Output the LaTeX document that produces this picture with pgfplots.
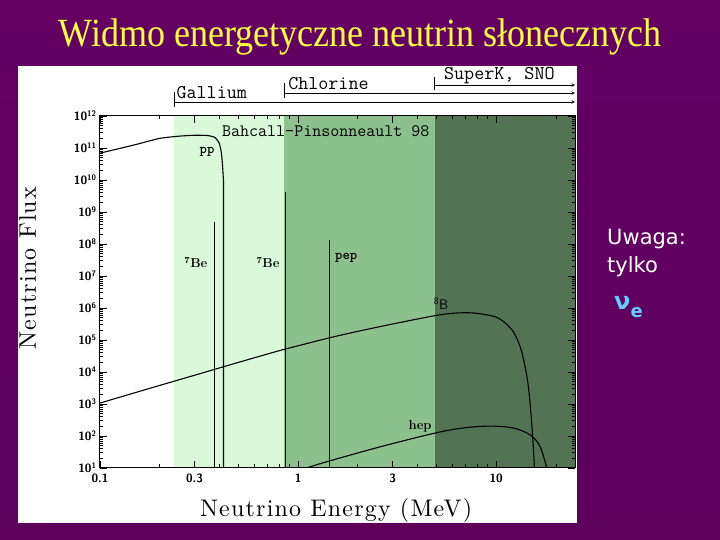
\documentclass[border=0pt]{standalone}
\usepackage{fontspec}
\usepackage{pgfplots}
\pgfplotsset{compat=1.18}
\newfontfamily\titlefont[FakeStretch=0.9]{Liberation Serif}
\newfontfamily\notefont{DejaVu Sans}
\newfontfamily\spacedfont{lmroman10-regular}[Extension=.otf, LetterSpace=5]
\definecolor{bgtop}{HTML}{640064}
\definecolor{bgmid}{HTML}{980098}
\definecolor{bgbot}{HTML}{5C005C}
\definecolor{titleyellow}{HTML}{FFFF3C}
\definecolor{lgreen}{HTML}{D9F9D9}
\definecolor{mgreen}{HTML}{8CC08C}
\definecolor{dgreen}{HTML}{527452}
\definecolor{nucol}{HTML}{66CCFF}

\begin{document}
\begin{tikzpicture}
\shade[top color=bgtop, middle color=bgmid, bottom color=bgbot] (0pt,0pt) rectangle (720pt,540pt);
\fill[white] (18pt,17pt) rectangle (577pt,474pt);
\node[anchor=base, text=titleyellow, font=\titlefont\fontsize{40}{44}\selectfont, inner sep=0pt] at (360pt,493pt) {Widmo energetyczne neutrin słonecznych};

\begin{axis}[
at={(100pt,72pt)}, anchor=south west,
width=475pt, height=352pt, scale only axis,
xmode=log, ymode=log,
xmin=0.1, xmax=25, ymin=10, ymax=1e12,
axis on top, clip mode=individual,
xtick={0.1,0.3,1,3,10},
xticklabels={0.1,0.3,1,3,10},
minor xtick={0.2,0.4,0.5,0.6,0.7,0.8,0.9,2,4,5,6,7,8,9,20},
ytickten={1,...,12},
yticklabels={10\textsuperscript{1},10\textsuperscript{2},10\textsuperscript{3},10\textsuperscript{4},10\textsuperscript{5},10\textsuperscript{6},10\textsuperscript{7},10\textsuperscript{8},10\textsuperscript{9},10\textsuperscript{10},10\textsuperscript{11},10\textsuperscript{12}},
tick style={black, line width=0.6pt},
major tick length=7pt, minor tick length=3.5pt,
ticklabel style={font=\sffamily\bfseries\fontsize{12}{14}\selectfont},
xticklabel style={yshift=-2pt},
axis line style={line width=1pt},
xlabel={Neutrino Energy (MeV)},
xlabel style={at={(axis description cs:0.497,-0.122)}, anchor=center, font=\spacedfont\fontsize{24}{26}\selectfont},
ylabel={Neutrino Flux},
ylabel style={at={(axis description cs:-0.152,0.568)}, anchor=center, font=\spacedfont\fontsize{24}{26}\selectfont},
]
% detector threshold regions
\addplot[fill=lgreen, draw=none] coordinates {(0.236,10) (0.236,1e12) (0.85,1e12) (0.85,10)} -- cycle;
\addplot[fill=mgreen, draw=none] coordinates {(0.85,10) (0.85,1e12) (4.9,1e12) (4.9,10)} -- cycle;
\addplot[fill=dgreen, draw=none] coordinates {(4.9,10) (4.9,1e12) (25,1e12) (25,10)} -- cycle;

% pp
\addplot[black, line width=1.1pt, smooth, tension=0.3] coordinates {
(0.1,6.9e10) (0.15,1.26e11) (0.2,2.0e11) (0.25,2.34e11) (0.3,2.5e11) (0.35,2.45e11)
(0.38,2.14e11) (0.40,1.41e11) (0.41,7.1e10) (0.415,3.2e10) (0.419,1.26e10)
};
\addplot[black, line width=1.1pt] coordinates {(0.419,1.26e10) (0.42,1e10) (0.42,10)};
% 7Be, pep lines
\addplot[black, line width=1.1pt] coordinates {(0.38,10) (0.38,4.9e8)};
\addplot[black, line width=1.1pt] coordinates {(0.86,10) (0.86,4.2e9)};
\addplot[black, line width=1.1pt] coordinates {(1.44,10) (1.44,1.33e8)};
% 8B
\addplot[black, line width=1.1pt, smooth, tension=0.5] coordinates {
(0.1,1.07e3) (0.2,3.8e3) (0.3,7.9e3) (0.5,2.0e4) (0.8,4.6e4) (1.0,6.6e4) (1.44,1.17e5)
(2.0,1.86e5) (3.0,3.16e5) (4.9,5.75e5) (6.0,6.8e5) (7.0,7.1e5) (8.0,6.8e5) (10,5.2e5)
(11.5,2.8e5) (12.5,1.4e5) (13.5,4.0e4) (14.5,4.0e3) (15.2,1.6e2) (15.6,10)
};
% hep
\addplot[black, line width=1.1pt, smooth, tension=0.5] coordinates {
(1.1,10) (1.44,16.6) (2.59,45.7) (4.9,123) (6.8,178) (9.3,204) (12.2,178)
(14.9,107) (16.7,45.7) (18.0,10)
};

% labels
\begin{scope}[font=\bfseries\fontsize{13}{15}\selectfont]
\node[font=\ttfamily\bfseries\fontsize{14}{16}\selectfont] at (axis cs:0.347,7.5e10) {pp};
\node at (axis cs:0.305,2.7e7) {\textsuperscript{7}Be};
\node at (axis cs:0.705,2.7e7) {\textsuperscript{7}Be};
\node[font=\ttfamily\bfseries\fontsize{14}{16}\selectfont] at (axis cs:1.75,3.6e7) {pep};
\node[font=\sffamily\fontsize{14}{16}\selectfont] at (axis cs:5.27,1.33e6) {\textsuperscript{8}B};
\node at (axis cs:4.13,2.0e2) {hep};
\end{scope}
\node[font=\ttfamily\fontsize{17.5}{19}\selectfont] at (axis cs:1.38,3.4e11) {Bahcall{-}Pinsonneault 98};

% detector ranges above the axis
\draw[line width=0.7pt] ({axis cs:0.236,10}|-{axis description cs:0,1.026}) -- ({axis cs:0.236,10}|-{axis description cs:0,1.068});
\draw[line width=0.6pt, ->, >=stealth] ({axis cs:0.236,10}|-{axis description cs:0,1.040}) -- ({axis cs:25,10}|-{axis description cs:0,1.040});
\draw[line width=0.7pt] ({axis cs:0.85,10}|-{axis description cs:0,1.051}) -- ({axis cs:0.85,10}|-{axis description cs:0,1.094});
\draw[line width=0.6pt, ->, >=stealth] ({axis cs:0.85,10}|-{axis description cs:0,1.065}) -- ({axis cs:25,10}|-{axis description cs:0,1.065});
\draw[line width=0.7pt] ({axis cs:4.9,10}|-{axis description cs:0,1.074}) -- ({axis cs:4.9,10}|-{axis description cs:0,1.111});
\draw[line width=0.6pt, ->, >=stealth] ({axis cs:4.9,10}|-{axis description cs:0,1.088}) -- ({axis cs:25,10}|-{axis description cs:0,1.088});
\node[anchor=base west, font=\ttfamily\fontsize{19.5}{21}\selectfont, inner sep=0pt] at ({axis cs:0.243,10}|-{axis description cs:0,1.049}) {Gallium};
\node[anchor=base west, font=\ttfamily\fontsize{19.5}{21}\selectfont, inner sep=0pt] at ({axis cs:0.89,10}|-{axis description cs:0,1.074}) {Chlorine};
\node[anchor=base west, font=\ttfamily\fontsize{19.5}{21}\selectfont, inner sep=0pt] at ({axis cs:5.45,10}|-{axis description cs:0,1.105}) {SuperK, SNO};
\end{axis}

\node[anchor=base west, text=white, font=\notefont\fontsize{21}{24}\selectfont, inner sep=0pt] at (607pt,295pt) {Uwaga:};
\node[anchor=base west, text=white, font=\notefont\fontsize{21}{24}\selectfont, inner sep=0pt] at (607pt,267pt) {tylko};
\node[anchor=base west, text=nucol, font=\notefont\bfseries\fontsize{24}{26}\selectfont, inner sep=0pt] at (614pt,230pt) {ν\raisebox{-8pt}{\fontsize{18}{20}\selectfont e}};
\end{tikzpicture}
\end{document}
